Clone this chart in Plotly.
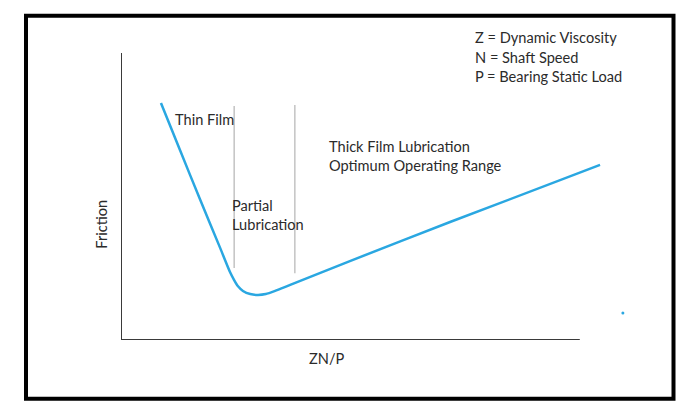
import plotly.graph_objects as go

# Schematic Stribeck curve (arbitrary units)
zn_p = [0.77, 1.14, 1.52, 1.91, 2.10, 2.18, 2.25, 2.35, 2.49, 2.64, 2.79, 2.97, 3.26, 4.41, 6.34, 9.23]
friction = [8.26, 6.60, 4.91, 3.21, 2.37, 2.09, 1.88, 1.71, 1.60, 1.57, 1.60, 1.71, 1.92, 2.75, 4.11, 6.10]

stray_dot_x = [9.67]
stray_dot_y = [0.94]

# regime boundaries: x position, bottom, top
boundary_x = [2.18, 3.35]
boundary_bottom = [2.51, 2.33]
boundary_top = [8.15, 8.19]

x_axis_end = 8.84
y_axis_top = 10.0

legend_lines = ["Z = Dynamic Viscosity", "N = Shaft Speed", "P = Bearing Static Load"]

FONT = "Lato"
TXT = "#2b2b2b"
BLUE = "#2aa7e1"
FS = 14.6

# page body has an 8px margin; work in target-screen pixels and offset
OFF = 8
FIG_W, FIG_H = 699 - 2 * OFF, 416 - 2 * OFF
L, R, T, B = 121 - OFF, 640 - OFF, 53 - OFF, 340 - OFF
W, H = R - L, B - T

def px(x):
    return (x - OFF - L) / W

def py(y):
    return (B - (y - OFF)) / H

fig = go.Figure()
fig.add_trace(go.Scatter(x=zn_p, y=friction, mode="lines",
                         line=dict(color=BLUE, width=2.5, shape="spline", smoothing=0.5),
                         hoverinfo="skip", showlegend=False))
fig.add_trace(go.Scatter(x=stray_dot_x, y=stray_dot_y, mode="markers",
                         marker=dict(color=BLUE, size=3), hoverinfo="skip", showlegend=False))

shapes = []
for bx, b0, b1 in zip(boundary_x, boundary_bottom, boundary_top):
    shapes.append(dict(type="line", xref="x", yref="y", x0=bx, x1=bx, y0=b0, y1=b1,
                       line=dict(color="#b4b4b4", width=1.2), layer="below"))
# axes
shapes.append(dict(type="line", xref="x", yref="y", x0=0, x1=0, y0=0, y1=y_axis_top,
                   line=dict(color="#3a3a3a", width=2)))
shapes.append(dict(type="line", xref="x", yref="y", x0=0, x1=x_axis_end, y0=0, y1=0,
                   line=dict(color="#3a3a3a", width=2)))
# outer frame
shapes.append(dict(type="rect", xref="paper", yref="paper",
                   x0=px(26), x1=px(673.5), y0=py(398.7), y1=py(15.7),
                   line=dict(color="black", width=4)))

ann = []
def text(t, x, y, xref="x", yref="y", xanchor="left", angle=0):
    ann.append(dict(text=t, x=x, y=y, xref=xref, yref=yref, xanchor=xanchor,
                    yanchor="middle", showarrow=False, align="left", textangle=angle,
                    font=dict(family=FONT, size=FS, color=TXT)))

text("Thin Film", 1.00, 7.67)
text("Partial<br>Lubrication", 2.10, 4.36)
text("Thick Film Lubrication<br>Optimum Operating Range", 3.97, 6.40)
for i, line in enumerate(legend_lines):
    text(line, px(473), py(38 + 19 * i), xref="paper", yref="paper")
text("Friction", px(100.7), py(224), xref="paper", yref="paper", xanchor="center", angle=-90)
text("ZN/P", px(326.5), py(359), xref="paper", yref="paper", xanchor="center")

fig.update_layout(
    width=FIG_W, height=FIG_H,
    margin=dict(l=L, r=FIG_W - R, t=T, b=FIG_H - B),
    paper_bgcolor="white", plot_bgcolor="white",
    xaxis=dict(range=[0, W / 51.9], visible=False, fixedrange=True),
    yaxis=dict(range=[0, H / 28.7], visible=False, fixedrange=True),
    shapes=shapes, annotations=ann, showlegend=False,
)
fig.write_html("out.html", config={"displayModeBar": False})
